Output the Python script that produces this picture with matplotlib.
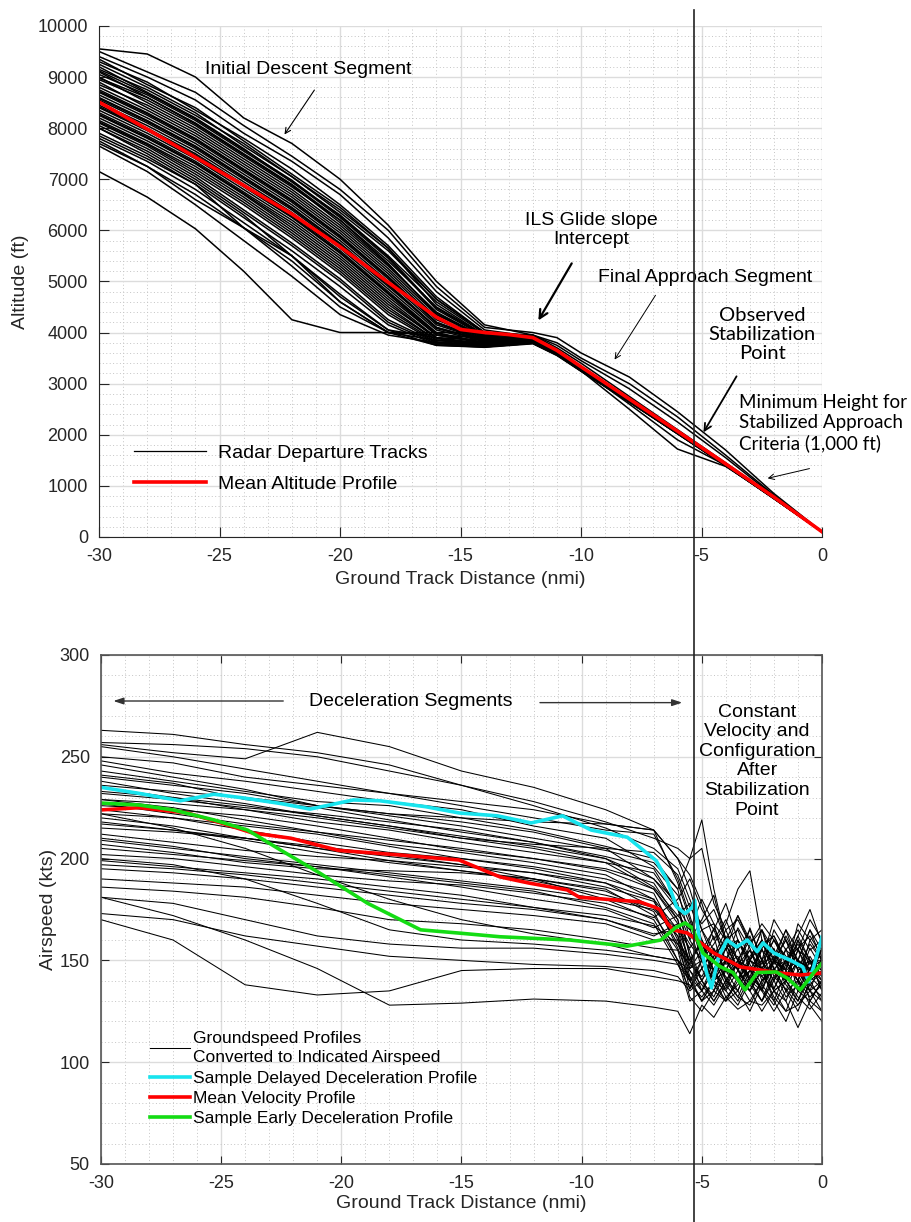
import matplotlib
matplotlib.use("Agg")
import matplotlib.pyplot as plt
from matplotlib.lines import Line2D
from matplotlib.ticker import MultipleLocator

plt.rcParams["font.family"] = ["Liberation Sans", "DejaVu Sans"]
plt.rcParams["axes.unicode_minus"] = False

# ---------------- altitude panel data ----------------
alt_x = [-30, -28, -26, -24, -22, -20, -18, -16, -14, -12, -11, -10, -8, -6, -4, -2, 0]

alt_tracks_upper = [
    [9550, 9450, 9000, 8200, 7700, 7000, 6100, 5000, 4150, 3950, 3700, 3400, 2750, 2100, 1450, 790, 100],
    [9500, 9100, 8700, 8050, 7450, 6800, 6000, 4900, 4100, 4000, 3900, 3600, 3130, 2450, 1700, 850, 100],
    [9400, 9000, 8550, 7900, 7350, 6700, 5850, 4800, 4050, 3920, 3660, 3330, 2700, 2070, 1430, 780, 100],
    [9350, 8850, 8400, 7750, 7100, 6450, 5650, 4650, 4000, 3920, 3660, 3330, 2700, 2070, 1430, 780, 100],
    [9300, 8900, 8350, 7800, 7200, 6500, 5700, 4700, 4000, 3950, 3800, 3500, 3000, 2350, 1600, 820, 100],
    [9250, 8800, 8300, 7650, 7050, 6350, 5600, 4650, 4000, 3900, 3650, 3330, 2710, 2070, 1430, 780, 100],
    [9200, 8700, 8200, 7600, 6950, 6300, 5500, 4600, 3980, 3890, 3640, 3310, 2690, 2060, 1420, 780, 100],
    [9150, 8750, 8250, 7700, 7050, 6400, 5650, 4550, 3950, 3950, 3750, 3450, 2900, 2250, 1550, 800, 100],
    [9120, 8680, 8180, 7580, 6980, 6280, 5480, 4480, 3930, 3880, 3630, 3300, 2690, 2060, 1420, 780, 100],
    [9100, 8600, 8100, 7500, 6900, 6200, 5400, 4500, 3950, 3900, 3650, 3330, 2700, 2070, 1430, 780, 100],
    [9050, 8650, 8150, 7550, 6950, 6250, 5450, 4450, 3920, 3870, 3620, 3300, 2680, 2060, 1420, 770, 100],
    [9000, 8500, 8000, 7400, 6800, 6100, 5300, 4400, 3900, 3900, 3640, 3320, 2700, 2070, 1430, 780, 100],
    [8980, 8600, 8080, 7480, 6880, 6150, 5330, 4380, 3900, 3890, 3640, 3310, 2690, 2060, 1420, 780, 100],
    [8950, 8550, 8050, 7450, 6850, 6200, 5350, 4350, 3900, 3880, 3640, 3310, 2700, 2060, 1430, 780, 100],
    [8900, 8400, 7900, 7300, 6700, 6000, 5200, 4300, 3880, 3900, 3600, 3250, 2500, 1720, 1380, 770, 100],
    [8850, 8450, 7950, 7350, 6750, 6050, 5250, 4350, 3900, 3900, 3650, 3330, 2700, 2070, 1430, 780, 100],
]

alt_tracks_core = [
    [8800, 8350, 7850, 7250, 6650, 5950, 5150, 4250, 3870, 3880, 3630, 3310, 2690, 2060, 1420, 780, 100],
    [8750, 8300, 7800, 7200, 6600, 5900, 5100, 4200, 3860, 3870, 3620, 3300, 2690, 2060, 1420, 780, 100],
    [8720, 8280, 7780, 7180, 6580, 5880, 5080, 4180, 3850, 3870, 3620, 3300, 2680, 2050, 1420, 770, 100],
    [8700, 8250, 7750, 7150, 6550, 5850, 5050, 4200, 3850, 3870, 3620, 3280, 2600, 1900, 1400, 770, 100],
    [8650, 8200, 7700, 7100, 6500, 5800, 5000, 4150, 3850, 3860, 3620, 3300, 2680, 2050, 1420, 770, 100],
    [8600, 8150, 7650, 7050, 6450, 5750, 4950, 4100, 3850, 3860, 3620, 3300, 2690, 2060, 1420, 780, 100],
    [8580, 8130, 7630, 7030, 6430, 5730, 4930, 4080, 3840, 3860, 3610, 3290, 2680, 2050, 1420, 770, 100],
    [8550, 8100, 7600, 7000, 6400, 5700, 4900, 4100, 3830, 3850, 3610, 3290, 2680, 2050, 1420, 770, 100],
    [8500, 8050, 7550, 6950, 6350, 5650, 4850, 4050, 3820, 3850, 3610, 3290, 2680, 2050, 1410, 770, 100],
    [8450, 8000, 7500, 6900, 6300, 5600, 4800, 4000, 3800, 3840, 3600, 3280, 2670, 2040, 1410, 770, 100],
    [8420, 7980, 7470, 6870, 6270, 5570, 4770, 3980, 3800, 3840, 3600, 3280, 2670, 2040, 1410, 770, 100],
    [8400, 7950, 7450, 6850, 6250, 5550, 4750, 3950, 3800, 3840, 3600, 3280, 2670, 2040, 1410, 770, 100],
    [8350, 7900, 7400, 6800, 6200, 5500, 4700, 3950, 3790, 3830, 3600, 3280, 2670, 2040, 1410, 760, 100],
    [8300, 7850, 7350, 6750, 6150, 5450, 4650, 3900, 3780, 3830, 3590, 3270, 2660, 2040, 1410, 760, 100],
    [8270, 7820, 7320, 6720, 6100, 5400, 4600, 3880, 3770, 3820, 3590, 3270, 2660, 2040, 1410, 760, 100],
    [8250, 7800, 7300, 6700, 6050, 5350, 4550, 3900, 3770, 3820, 3590, 3270, 2660, 2040, 1410, 760, 100],
    [8200, 7750, 7250, 6650, 6000, 5300, 4500, 3850, 3760, 3820, 3580, 3270, 2660, 2030, 1400, 760, 100],
]

alt_tracks_lower = [
    [8150, 7700, 7200, 6600, 5950, 5250, 4450, 3850, 3750, 3810, 3580, 3260, 2650, 2030, 1400, 760, 100],
    [8120, 7680, 7150, 6550, 5900, 5200, 4400, 3820, 3750, 3810, 3580, 3260, 2650, 2030, 1400, 760, 100],
    [8100, 7650, 7100, 6500, 5850, 5150, 4350, 3800, 3750, 3810, 3580, 3260, 2650, 2030, 1400, 760, 100],
    [8050, 7600, 7050, 6400, 5750, 5050, 4250, 3800, 3740, 3800, 3570, 3260, 2650, 2030, 1400, 760, 100],
    [8000, 7550, 7000, 6350, 5700, 5000, 4200, 3780, 3730, 3800, 3570, 3250, 2650, 2030, 1400, 760, 100],
    [7900, 7450, 6900, 6250, 5600, 4900, 4150, 3760, 3720, 3790, 3560, 3250, 2640, 2020, 1400, 750, 100],
    [7800, 7350, 6800, 6150, 5500, 4750, 4050, 3750, 3720, 3790, 3560, 3250, 2640, 2020, 1400, 750, 100],
    [7700, 7250, 6700, 6050, 5400, 4600, 4000, 3750, 3710, 3780, 3550, 3240, 2640, 2020, 1390, 750, 100],
    [7650, 7150, 6500, 5800, 5100, 4350, 3950, 3800, 3750, 3800, 3570, 3260, 2650, 2030, 1400, 760, 100],
    [7750, 7250, 6600, 6050, 5300, 4500, 4000, 3950, 3900, 3850, 3610, 3290, 2680, 2050, 1420, 770, 100],
    [7850, 7400, 6900, 6050, 5500, 4700, 4050, 3900, 3850, 3850, 3610, 3290, 2680, 2050, 1420, 770, 100],
    [8000, 7500, 6950, 6300, 5500, 4600, 4000, 3850, 3800, 3840, 3600, 3280, 2670, 2040, 1410, 770, 100],
    [7150, 6650, 6030, 5200, 4250, 4000, 4000, 4000, 4000, 3900, 3650, 3330, 2700, 2070, 1430, 780, 100],
]

mean_alt_x = [-30, -28, -26, -24, -22, -20, -18, -16, -15, -14, -13, -12, -11, -10, -8, -6, -4, -2, 0]
mean_alt = [8510, 7980, 7430, 6880, 6320, 5680, 4980, 4300, 4060, 4000, 3960, 3900, 3650, 3330, 2700, 2070, 1430, 780, 100]

# ---------------- airspeed panel data ----------------
spd_x = [-30, -27, -24, -21, -18, -15, -12, -9, -7, -6, -5.5, -5, -4.5, -4, -3.5, -3, -2.5, -2, -1.5, -1, -0.5, 0]

spd_tracks = [
    [263, 261, 256, 252, 246, 236, 226, 215, 205, 195, 180, 165, 150, 158, 145, 155, 142, 150, 146, 160, 142, 150],
    [257, 256, 254, 250, 243, 236, 228, 218, 210, 205, 200, 219, 185, 160, 150, 162, 146, 155, 140, 150, 146, 140],
    [256, 252, 249, 262, 255, 243, 235, 224, 214, 200, 185, 165, 168, 148, 152, 140, 156, 136, 150, 140, 156, 146],
    [255, 250, 244, 238, 232, 226, 220, 214, 212, 190, 172, 152, 140, 156, 160, 146, 136, 150, 160, 145, 135, 152],
    [250, 247, 240, 236, 232, 228, 224, 217, 214, 188, 170, 150, 158, 168, 185, 194, 160, 146, 140, 150, 146, 156],
    [248, 242, 238, 233, 228, 224, 216, 210, 196, 182, 168, 156, 145, 136, 150, 160, 150, 140, 156, 135, 150, 145],
    [246, 240, 234, 226, 222, 218, 213, 205, 190, 178, 152, 140, 150, 162, 145, 135, 146, 156, 140, 160, 150, 140],
    [243, 238, 233, 228, 226, 220, 214, 206, 200, 185, 160, 150, 162, 140, 135, 150, 160, 146, 135, 150, 140, 156],
    [241, 237, 229, 225, 219, 213, 208, 200, 186, 172, 178, 160, 145, 150, 166, 156, 140, 150, 160, 145, 150, 135],
    [240, 236, 232, 226, 221, 216, 210, 204, 198, 185, 200, 205, 178, 165, 170, 158, 168, 160, 148, 162, 175, 158],
    [238, 232, 227, 221, 216, 210, 205, 198, 193, 176, 152, 135, 146, 156, 140, 145, 156, 162, 150, 140, 160, 150],
    [235, 230, 224, 218, 214, 208, 203, 198, 185, 170, 146, 150, 140, 145, 156, 140, 130, 146, 150, 156, 140, 145],
    [233, 230, 226, 221, 216, 211, 206, 200, 190, 175, 160, 170, 182, 158, 145, 166, 150, 170, 160, 150, 165, 150],
    [232, 229, 225, 222, 218, 214, 208, 201, 195, 176, 166, 146, 135, 150, 140, 150, 146, 135, 140, 150, 135, 140],
    [229, 225, 219, 213, 207, 203, 198, 192, 180, 165, 142, 130, 140, 150, 146, 135, 150, 140, 130, 145, 150, 135],
    [227, 222, 217, 213, 209, 205, 200, 194, 185, 168, 155, 140, 152, 165, 150, 138, 160, 150, 140, 155, 145, 160],
    [226, 224, 221, 216, 210, 204, 200, 195, 188, 170, 148, 160, 150, 138, 150, 146, 135, 150, 145, 135, 146, 150],
    [224, 220, 214, 208, 203, 200, 196, 190, 183, 160, 136, 146, 156, 145, 135, 150, 146, 130, 145, 150, 130, 140],
    [222, 220, 216, 212, 206, 200, 195, 188, 176, 162, 140, 130, 135, 146, 140, 130, 140, 146, 135, 125, 140, 130],
    [220, 216, 210, 205, 201, 197, 193, 186, 179, 158, 150, 140, 130, 140, 150, 140, 130, 140, 150, 140, 135, 125],
    [218, 214, 209, 203, 198, 194, 190, 185, 172, 155, 132, 125, 135, 130, 140, 135, 125, 135, 130, 117, 130, 140],
    [217, 214, 210, 205, 199, 194, 189, 182, 176, 165, 150, 160, 140, 150, 160, 148, 138, 152, 165, 148, 138, 145],
    [215, 213, 210, 206, 202, 197, 190, 180, 170, 150, 130, 135, 145, 135, 128, 140, 135, 125, 135, 140, 128, 120],
    [212, 208, 204, 201, 199, 196, 193, 188, 180, 156, 140, 130, 140, 130, 135, 125, 138, 130, 120, 135, 130, 125],
    [210, 206, 200, 196, 192, 188, 184, 176, 168, 148, 136, 150, 145, 132, 138, 145, 150, 135, 140, 130, 142, 136],
    [209, 205, 201, 197, 193, 189, 185, 180, 175, 162, 146, 155, 165, 150, 140, 152, 160, 142, 150, 162, 150, 142],
    [207, 203, 198, 195, 194, 193, 190, 184, 174, 150, 145, 138, 130, 140, 132, 128, 140, 145, 132, 138, 150, 145],
    [205, 202, 199, 196, 191, 186, 180, 175, 166, 172, 165, 180, 168, 160, 172, 158, 165, 150, 165, 155, 170, 160],
    [202, 200, 196, 192, 189, 187, 183, 178, 171, 180, 190, 175, 165, 178, 160, 150, 165, 155, 145, 168, 160, 165],
    [199, 196, 193, 190, 186, 182, 176, 170, 162, 168, 158, 150, 166, 155, 172, 160, 145, 165, 155, 150, 165, 155],
    [197, 195, 192, 188, 184, 180, 176, 172, 167, 158, 145, 135, 150, 142, 132, 145, 135, 150, 138, 130, 146, 138],
    [195, 193, 190, 186, 182, 178, 175, 170, 163, 165, 156, 165, 155, 145, 160, 150, 165, 145, 155, 165, 155, 160],
    [190, 188, 186, 182, 178, 175, 172, 168, 160, 160, 150, 158, 145, 152, 140, 158, 148, 160, 150, 156, 162, 152],
    [186, 184, 181, 176, 170, 168, 165, 160, 156, 155, 148, 142, 152, 160, 150, 142, 155, 148, 162, 150, 145, 158],
    [181, 178, 170, 162, 158, 156, 156, 153, 150, 148, 140, 146, 155, 140, 148, 155, 145, 152, 142, 155, 150, 145],
    [173, 170, 162, 157, 152, 150, 148, 147, 145, 142, 135, 140, 132, 145, 140, 150, 142, 136, 148, 140, 152, 142],
    [170, 160, 138, 133, 135, 145, 146, 146, 142, 140, 138, 132, 140, 135, 145, 138, 130, 142, 136, 128, 138, 132],
    [181, 172, 160, 146, 128, 129, 131, 130, 127, 125, 114, 128, 122, 132, 126, 130, 128, 135, 125, 128, 135, 130],
    [200, 197, 190, 178, 165, 160, 158, 155, 152, 150, 142, 135, 128, 138, 130, 142, 136, 128, 140, 132, 126, 134],
    [222, 215, 205, 192, 180, 170, 163, 158, 152, 150, 140, 150, 138, 130, 142, 135, 145, 132, 125, 140, 132, 138],
    [236, 233, 230, 226, 222, 220, 218, 217, 214, 200, 192, 178, 160, 170, 155, 165, 150, 160, 152, 146, 158, 150],
    [229, 227, 224, 220, 215, 210, 207, 205, 203, 192, 176, 168, 175, 160, 165, 150, 158, 162, 150, 158, 148, 155],
]

delayed_x = [-30, -28.4, -26.7, -25.3, -24.2, -22.5, -21.3, -19.5, -18.4, -16.5, -15.1, -13.5, -12.1,
             -10.8, -9.6, -8.1, -6.9, -6.45, -6.05, -5.7, -5.4, -5.3, -5.1, -4.8, -4.6, -4.3, -3.95,
             -3.55, -3.1, -2.7, -2.45, -2.0, -1.3, -0.8, -0.55, -0.35, 0]
delayed_spd = [235, 232, 228.4, 231.6, 230, 227, 224.3, 228.8, 228.4, 225.5, 222.4, 221, 217.5,
               221, 214, 210.5, 199, 189.5, 176.3, 173, 176, 179.6, 160, 143.8, 136.5, 151.8, 160,
               156.6, 160, 154.3, 158.6, 153.6, 150, 146.8, 139.5, 146.8, 161.5]

mean_spd_x = [-30, -28.4, -26.4, -25, -23.7, -22.1, -20.1, -17.6, -15.1, -13.4, -12.2, -10.6, -10.1,
              -7.6, -7.0, -6.75, -6.45, -6.2, -5.6, -5.2, -4.5, -3.9, -3.4, -2.6, -1.75, -0.9, 0]
mean_spd = [223.9, 225, 222.4, 217.5, 212.6, 210, 204, 201.8, 199.3, 191, 188, 184.6, 181,
            178.8, 176.3, 175, 168.4, 165, 163.4, 160, 153.6, 150, 146.8, 145.3, 143.8, 142.8, 143.8]

early_x = [-30, -28.4, -27, -25.3, -23.9, -22.5, -20.9, -18.9, -16.7, -15.1, -13.4, -10.5, -8.1,
           -6.7, -6.1, -5.7, -5.4, -4.95, -4.25, -3.7, -3.2, -2.7, -1.9, -1.45, -0.9, -0.35, 0]
early_spd = [227.3, 226.3, 223.9, 219, 214, 204, 192.9, 178, 165, 163.4, 161.6, 160, 157,
             160, 166, 168.4, 166, 153.6, 147, 144, 135.5, 144, 144.3, 141.3, 135.5, 143.8, 148.6]

CYAN = "#18e4ee"
GREEN = "#14dc14"
CALIBRI = ["Lato", "DejaVu Sans"]


def style_grid(ax):
    ax.grid(which="major", color="#dcdcdc", linewidth=1.0, linestyle="-")
    ax.grid(which="minor", color="#c4c4c4", linewidth=0.7, linestyle=(0, (1, 2.5)))
    ax.set_axisbelow(True)


fig = plt.figure(figsize=(9.12, 12.22), dpi=100)

# ---------------- top: altitude ----------------
ax1 = fig.add_axes([0.1086, 0.5606, 0.7928, 0.4182])
first = True
for trk in alt_tracks_upper + alt_tracks_core + alt_tracks_lower:
    ax1.plot(alt_x, trk, color="black", linewidth=1.1,
             label="Radar Departure Tracks" if first else None)
    first = False
ax1.plot(mean_alt_x, mean_alt, color="#ff0000", linewidth=2.6, label="Mean Altitude Profile")

ax1.set_xlim(-30, 0)
ax1.set_ylim(0, 10000)
ax1.xaxis.set_major_locator(MultipleLocator(5))
ax1.xaxis.set_minor_locator(MultipleLocator(1))
ax1.yaxis.set_major_locator(MultipleLocator(1000))
ax1.yaxis.set_minor_locator(MultipleLocator(200))
style_grid(ax1)
for side in ["top", "right"]:
    ax1.spines[side].set_visible(False)
for side in ["left", "bottom"]:
    ax1.spines[side].set_color("#262626")
ax1.tick_params(which="major", direction="in", length=7, labelsize=13, pad=8, colors="#262626")
ax1.tick_params(which="minor", length=0)
ax1.set_xlabel("Ground Track Distance (nmi)", fontsize=14, color="#262626", labelpad=4)
ax1.set_ylabel("Altitude (ft)", fontsize=14, color="#262626", labelpad=6)

leg1 = ax1.legend(loc="upper left", bbox_to_anchor=(0.035, 0.2), frameon=False, fontsize=14,
                  handlelength=3.7, handletextpad=0.6, labelspacing=0.68, borderpad=0)
leg1.legend_handles[0].set_linewidth(0.9)

ax1.annotate("Initial Descent Segment", xy=(-22.37, 7830), xytext=(-25.6, 9140),
             fontsize=14, ha="left", va="center")
ax1.annotate("", xy=(-22.37, 7830), xytext=(-21.0, 8790),
             arrowprops=dict(arrowstyle="->", lw=0.8, color="black"))
ax1.text(-9.59, 6000, "ILS Glide slope\nIntercept", fontsize=14, ha="center", va="center",
         linespacing=1.15)
ax1.annotate("", xy=(-11.83, 4190), xytext=(-10.33, 5400),
             arrowprops=dict(arrowstyle="->,head_length=0.6,head_width=0.3", lw=1.6, color="black"))
ax1.text(-9.29, 5070, "Final Approach Segment", fontsize=14, ha="left", va="center")
ax1.annotate("", xy=(-8.67, 3425), xytext=(-6.85, 4775),
             arrowprops=dict(arrowstyle="->", lw=0.7, color="black"))
ax1.text(-2.49, 3960, "Observed\nStabilization\nPoint", fontsize=14.5, ha="center", va="center",
         family=CALIBRI, linespacing=1.15)
ax1.annotate("", xy=(-4.98, 2000), xytext=(-3.49, 3190),
             arrowprops=dict(arrowstyle="->,head_length=0.5,head_width=0.25", lw=1.3, color="black"))
ax1.text(-3.44, 2230, "Minimum Height for\nStabilized Approach\nCriteria (1,000 ft)", fontsize=13.5,
         ha="left", va="center", family=CALIBRI, linespacing=1.2)
ax1.annotate("", xy=(-2.37, 1135), xytext=(-0.41, 1350),
             arrowprops=dict(arrowstyle="->", lw=0.7, color="black"))

# ---------------- bottom: airspeed ----------------
ax2 = fig.add_axes([0.1107, 0.0475, 0.7906, 0.4165])
first = True
for trk in spd_tracks:
    ax2.plot(spd_x, trk, color="black", linewidth=0.75,
             label="Groundspeed Profiles\nConverted to Indicated Airspeed" if first else None)
    first = False
ax2.plot(delayed_x, delayed_spd, color=CYAN, linewidth=2.6, label="Sample Delayed Deceleration Profile")
ax2.plot(mean_spd_x, mean_spd, color="#ff0000", linewidth=2.6, label="Mean Velocity Profile")
ax2.plot(early_x, early_spd, color=GREEN, linewidth=2.6, label="Sample Early Deceleration Profile")

ax2.set_xlim(-30, 0)
ax2.set_ylim(50, 300)
ax2.xaxis.set_major_locator(MultipleLocator(5))
ax2.xaxis.set_minor_locator(MultipleLocator(1))
ax2.yaxis.set_major_locator(MultipleLocator(50))
ax2.yaxis.set_minor_locator(MultipleLocator(10))
style_grid(ax2)
for side in ax2.spines:
    ax2.spines[side].set_color("#555555")
    ax2.spines[side].set_linewidth(1.2)
ax2.tick_params(which="major", direction="in", length=6, labelsize=13, pad=8, colors="#262626",
                top=True, right=True)
ax2.tick_params(which="minor", length=0)
ax2.set_xlabel("Ground Track Distance (nmi)", fontsize=14, color="#262626", labelpad=2)
ax2.set_ylabel("Airspeed (kts)", fontsize=14, color="#262626", labelpad=2)

leg2 = ax2.legend(loc="upper left", bbox_to_anchor=(0.056, 0.278), frameon=False, fontsize=12.5,
                  handlelength=2.3, handletextpad=0.15, labelspacing=0.3, borderpad=0)
for txt in leg2.get_texts():
    txt.set_linespacing(1.35)

ax2.text(-17.1, 277.4, "Deceleration Segments", fontsize=14, ha="center", va="center")
ax2.annotate("", xy=(-29.6, 277.4), xytext=(-22.3, 277.4),
             arrowprops=dict(arrowstyle="-|>,head_length=0.6,head_width=0.2", lw=1.0, color="#333333"))
ax2.annotate("", xy=(-5.7, 276.6), xytext=(-11.85, 276.6),
             arrowprops=dict(arrowstyle="-|>,head_length=0.6,head_width=0.2", lw=1.0, color="#333333"))
ax2.text(-2.7, 247.9, "Constant\nVelocity and\nConfiguration\nAfter\nStabilization\nPoint",
         fontsize=14, ha="center", va="center", linespacing=1.2)

# stabilization point marker spanning both panels
fig.add_artist(Line2D([0.7615, 0.7615], [0.0, 0.992], transform=fig.transFigure,
                      color="#222222", linewidth=1.2))

fig.savefig("out.png", dpi=100)
